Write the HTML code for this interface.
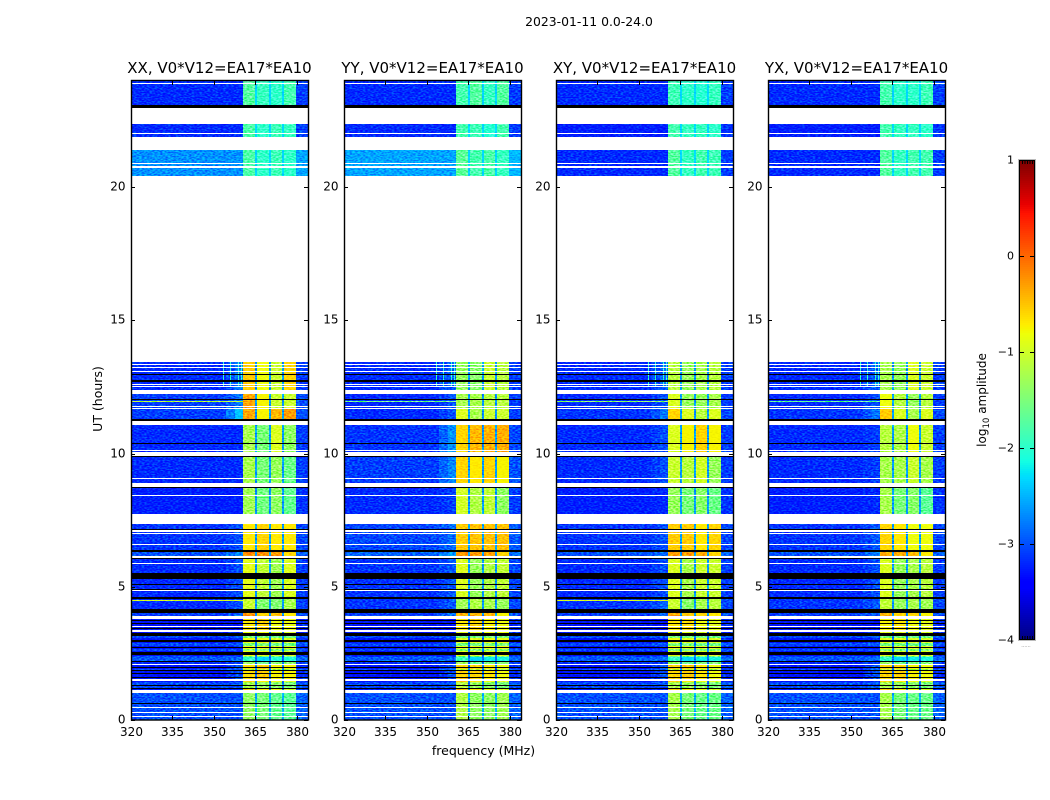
<!DOCTYPE html>
<html lang="en">
<head>
<meta charset="utf-8">
<title>2023-01-11 0.0-24.0</title>
<style>
html,body{margin:0;padding:0;background:#fff;width:1050px;height:800px;overflow:hidden}
svg{display:block}
text{font-family:"DejaVu Sans","Liberation Sans",sans-serif;fill:#000}
</style>
</head>
<body>
<svg id="figure" xmlns="http://www.w3.org/2000/svg" width="1050" height="800" viewBox="0 0 1050 800">
<defs>
<filter id="speckle" x="0" y="0" width="100%" height="100%" color-interpolation-filters="sRGB">
<feTurbulence type="fractalNoise" baseFrequency="0.38 0.78" numOctaves="1" seed="7" result="n"/>
<feColorMatrix in="n" type="matrix" values="2.8 0 0 0 -0.9 2.8 0 0 0 -0.9 2.8 0 0 0 -0.9 0 0 0 0 1" result="g"/>
<feBlend in="g" in2="SourceGraphic" mode="soft-light" result="b"/>
<feComposite in="b" in2="SourceAlpha" operator="in"/>
</filter>
</defs>
<text x="589" y="26" font-size="12.4" text-anchor="middle">2023-01-11 0.0-24.0</text>
<text x="483.5" y="755" font-size="12.5" text-anchor="middle">frequency (MHz)</text>
<text transform="translate(102,399) rotate(-90)" font-size="12.5" text-anchor="middle">UT (hours)</text>
<text transform="translate(986,400) rotate(-90)" font-size="12" text-anchor="middle">log<tspan font-size="8.6" dy="3">10</tspan><tspan dy="-3"> amplitude</tspan></text>
<g id="panels"></g>
<g id="colorbar"></g>
</svg>
<script>
const panelNames = ['XX', 'YY', 'XY', 'YX'];
const xTickLabels = [320, 335, 350, 365, 380];
const yTickLabels = [0, 5, 10, 15, 20];
const colorbarTicks = [1, 0, -1, -2, -3, -4];

// frequency zones (MHz): background, half ramp, ramp, band, gap, band, gap, band, gap, band, background
const freqEdges = [320, 354.5, 357.5, 360.4, 364.8, 365.4, 369.9, 370.5, 374.7, 375.3, 379.8, 384];

// UT epochs (hours, descending) with common band behaviour
const epochEdges = [24, 22.7, 21.7, 20.4, 12.3, 11.71, 11.1, 9.91, 8.75, 7.5, 6.31, 6.1, 4.54, 4.03, 3.85, 3.31, 2.74, 2.35, 2.08, 1.5, 1.13, 0];
const gapLevels = [-2.3, -2.3, -2.3, -2.6, -2.6, -2.6, -2.6, -2.6, -2.6, -2.6, -2.6, -2.6, -2.6, -2.6, -2.8, -2.8, -2.8, -2.8, -2.8, -2.8, -2.5];

// log10 amplitude per epoch: background, ramp, band1, band2, band3, band4
const levelsXX = [
[-3.2,-3.2,-1.75,-1.95,-2.0,-1.85],[-3.2,-3.2,-1.8,-2.0,-1.9,-1.95],[-2.65,-2.65,-1.8,-2.0,-1.9,-2.0],
[-3.2,-2.8,-0.55,-0.8,-1.0,-0.6],[-3.1,-2.8,-0.35,-0.75,-1.0,-1.0],[-3.1,-2.4,-0.35,-0.75,-0.45,-0.3],
[-3.2,-3.2,-1.2,-1.5,-0.9,-1.35],[-3.2,-3.2,-1.2,-1.5,-1.3,-1.6],[-3.25,-3.25,-1.25,-1.55,-1.35,-1.65],
[-3.15,-3.0,-0.7,-0.6,-0.7,-0.7],[-3.0,-2.7,-0.2,-0.25,-0.3,-0.6],[-3.2,-3.0,-0.85,-1.05,-1.25,-0.9],
[-3.2,-3.0,-1.0,-1.45,-1.45,-1.2],[-3.1,-2.9,-0.3,-0.6,-0.5,-0.7],[-3.3,-3.3,-0.7,-0.6,-0.8,-0.8],
[-3.3,-3.2,-0.8,-0.8,-0.9,-0.9],[-3.3,-3.3,-0.8,-0.85,-0.9,-0.9],[-3.2,-3.1,-1.3,-1.6,-1.4,-1.4],
[-3.3,-3.0,-0.65,-0.55,-0.75,-0.75],[-3.3,-3.2,-0.6,-0.7,-0.8,-0.9],[-3.0,-3.0,-1.35,-1.5,-1.65,-1.7]];
const levelsYY = [
[-3.2,-3.2,-1.85,-1.75,-1.95,-1.75],[-3.2,-3.2,-1.85,-1.9,-2.05,-1.85],[-2.55,-2.55,-1.7,-1.85,-1.8,-1.95],
[-3.2,-2.9,-1.3,-1.4,-1.0,-1.1],[-3.2,-3.0,-1.2,-1.2,-1.1,-1.1],[-3.2,-3.0,-0.9,-1.2,-1.0,-1.0],
[-3.15,-2.65,-0.6,-0.45,-0.4,-0.4],[-3.1,-2.7,-0.6,-0.7,-0.6,-0.75],[-3.2,-3.1,-0.95,-1.15,-1.05,-1.35],
[-3.05,-2.85,-0.55,-0.5,-0.5,-0.5],[-2.9,-2.6,-0.3,-0.3,-0.35,-0.6],[-3.15,-2.95,-0.9,-1.3,-1.15,-1.05],
[-3.15,-2.95,-1.25,-1.15,-1.2,-1.3],[-3.1,-2.8,-0.4,-0.4,-0.45,-0.75],[-3.3,-3.3,-0.7,-0.6,-0.75,-0.8],
[-3.3,-3.2,-0.85,-0.85,-0.8,-0.8],[-3.3,-3.3,-0.85,-0.9,-0.85,-0.85],[-3.2,-3.1,-1.25,-1.6,-1.5,-1.45],
[-3.3,-3.0,-0.6,-0.6,-0.7,-0.8],[-3.3,-3.2,-0.5,-0.7,-0.8,-0.9],[-3.0,-3.0,-1.15,-1.35,-1.35,-1.25]];
const levelsXY = [
[-3.2,-3.2,-1.9,-2.0,-2.05,-1.95],[-3.25,-3.25,-1.85,-1.95,-1.95,-2.0],[-3.2,-3.2,-1.75,-1.95,-1.85,-1.9],
[-3.2,-2.9,-1.1,-1.3,-1.2,-1.1],[-3.2,-3.0,-0.9,-1.3,-1.3,-1.2],[-3.15,-2.8,-0.6,-0.9,-1.1,-0.9],
[-3.2,-3.0,-0.9,-0.75,-0.6,-0.75],[-3.2,-3.0,-1.0,-1.1,-0.95,-1.3],[-3.25,-3.2,-1.3,-1.5,-1.4,-1.6],
[-3.15,-3.0,-0.55,-0.55,-0.7,-0.6],[-3.0,-2.8,-0.3,-0.3,-0.4,-0.6],[-3.2,-3.0,-0.9,-1.2,-1.0,-1.0],
[-3.15,-2.9,-1.0,-1.4,-1.2,-1.1],[-3.1,-2.9,-0.4,-0.55,-0.6,-0.7],[-3.3,-3.3,-0.7,-0.65,-0.8,-0.85],
[-3.3,-3.2,-0.8,-0.85,-0.9,-0.9],[-3.3,-3.3,-0.85,-0.95,-0.9,-0.9],[-3.2,-3.1,-1.3,-1.6,-1.5,-1.45],
[-3.3,-3.0,-0.6,-0.55,-0.7,-0.8],[-3.3,-3.2,-0.6,-0.7,-0.8,-0.9],[-3.0,-3.0,-1.2,-1.5,-1.6,-1.6]];
const levelsYX = [
[-3.2,-3.2,-1.85,-2.0,-2.0,-1.9],[-3.25,-3.25,-1.85,-1.95,-1.95,-2.0],[-3.2,-3.2,-1.75,-1.95,-1.85,-1.85],
[-3.2,-2.9,-1.2,-1.3,-0.9,-1.0],[-3.2,-3.0,-0.8,-1.1,-1.3,-1.1],[-3.15,-2.8,-0.55,-0.9,-1.2,-0.9],
[-3.2,-3.1,-1.1,-1.15,-0.8,-1.0],[-3.2,-3.1,-1.2,-1.2,-1.0,-1.2],[-3.25,-3.2,-1.2,-1.5,-1.4,-1.7],
[-3.15,-2.95,-0.6,-0.7,-0.8,-0.8],[-3.0,-2.75,-0.4,-0.35,-0.45,-0.7],[-3.2,-3.0,-0.9,-1.3,-1.2,-1.1],
[-3.15,-2.95,-1.05,-1.3,-1.2,-1.25],[-3.1,-2.9,-0.45,-0.6,-0.6,-0.75],[-3.3,-3.3,-0.75,-0.7,-0.8,-0.85],
[-3.3,-3.2,-0.85,-0.85,-0.9,-0.9],[-3.3,-3.3,-0.85,-0.95,-0.9,-0.9],[-3.2,-3.1,-1.3,-1.6,-1.5,-1.45],
[-3.3,-3.0,-0.6,-0.6,-0.75,-0.8],[-3.3,-3.2,-0.6,-0.7,-0.8,-0.9],[-3.0,-3.0,-1.2,-1.5,-1.6,-1.6]];
const panelLevels = [levelsXX, levelsYY, levelsXY, levelsYX];

// flagged UT ranges with no data (white), [upper, lower] hours
const blankRanges = [[23.90,23.87],[22.96,22.36],[22.03,21.97],[21.88,21.39],[20.99,20.96],[20.90,20.86],[20.77,20.73],[20.41,13.43],[13.34,13.31],[13.26,13.22],[13.10,13.05],[12.61,12.57],[12.54,12.50],[12.39,12.23],[11.80,11.76],[11.71,11.67],[11.23,11.07],[10.13,10.08],[10.05,9.91],[9.07,9.04],[8.89,8.73],[8.43,8.41],[7.74,7.35],[7.13,7.07],[7.01,6.97],[6.59,6.57],[6.15,6.08],[5.88,5.85],[4.87,4.84],[3.90,3.79],[3.54,3.50],[3.38,3.31],[2.10,2.06],[1.54,1.46],[1.13,1.00],[0.48,0.44],[0.31,0.27],[0.16,0.12]];

// zero-amplitude UT ranges (black), [upper, lower] hours
const zeroRanges = [[23.08,22.96],[12.98,12.95],[12.75,12.69],[12.03,12.01],[11.28,11.23],[10.39,10.36],[9.91,9.87],[9.21,9.19],[8.73,8.71],[8.49,8.47],[7.16,7.13],[6.38,6.31],[6.08,6.04],[5.50,5.30],[5.11,5.07],[4.92,4.88],[4.60,4.54],[4.17,4.03],[3.75,3.71],[3.64,3.60],[3.45,3.41],[3.25,3.17],[3.02,2.93],[2.74,2.70],[2.55,2.44],[2.20,2.16],[1.99,1.95],[1.88,1.84],[1.76,1.71],[1.63,1.59],[1.44,1.41],[1.31,1.28],[1.20,1.16],[0.63,0.60]];

// low-gain rows in the striped interval: band level drop applies
const dimRanges = [[3.15,3.08],[2.89,2.78],[2.66,2.59],[2.40,2.21],[1.93,1.88],[1.41,1.33],[1.28,1.20]];
const dimBandDrop = [0.7, 0.7, 0.6, 0.7, 0.5, 0.6, 0.6];

// RFI rows: upper UT, lower UT, then level per panel
const rfiRowRanges = [[11.97,11.93],[4.52,4.48]];
const rfiRowLevels = [[-1.1,-1.6,-1.4,-1.7],[-0.9,null,-0.9,null]];
// RFI channels in MHz seen during 12.4-13.4 UT
const rfiChannelFreqs = [353.2,355.7,358.6,359.6];
const rfiChannelLevels = [-2.0,-2.0,-2.0,-2.0];
const rfiChannelTop = 13.43;
const rfiChannelBottom = 12.46;

const svgNS = 'http://www.w3.org/2000/svg';
const panelLeft = [131, 344, 556, 768];
const panelW = 177, plotTop = 81, plotBottom = 720, pxPerHour = 26.65;
function xScale(i, f){ return panelLeft[i] + (f - 320) * panelW / 64; }
function yScale(t){ return Math.max(plotTop, Math.round(plotBottom - t * pxPerHour)); }
function jetSeg(t, pts){
  for(let k = 1; k < pts.length; k++){
    if(t <= pts[k][0]){
      const a = pts[k-1], b = pts[k];
      return a[1] + (b[1]-a[1]) * (t-a[0]) / (b[0]-a[0]);
    }
  }
  return pts[pts.length-1][1];
}
function jet(v){
  const t = Math.max(0, Math.min(1, (v + 4) / 5));
  const r = jetSeg(t, [[0,0],[0.35,0],[0.66,1],[0.89,1],[1,0.5]]);
  const g = jetSeg(t, [[0,0],[0.125,0],[0.375,1],[0.64,1],[0.91,0],[1,0]]);
  const b = jetSeg(t, [[0,0.5],[0.11,1],[0.34,1],[0.65,0],[1,0]]);
  return 'rgb(' + Math.round(r*255) + ',' + Math.round(g*255) + ',' + Math.round(b*255) + ')';
}
function inRange(list, t){ return list.findIndex(r => t < r[0] && t > r[1]); }
function rect(parent, x, y, w, h, fill){
  const el = document.createElementNS(svgNS, 'rect');
  el.setAttribute('x', x);
  el.setAttribute('y', y);
  el.setAttribute('width', w);
  el.setAttribute('height', h);
  el.setAttribute('fill', fill);
  parent.appendChild(el);
  return el;
}
function line(parent, x1, y1, x2, y2, color){
  const el = document.createElementNS(svgNS, 'line');
  el.setAttribute('x1', x1);
  el.setAttribute('y1', y1);
  el.setAttribute('x2', x2);
  el.setAttribute('y2', y2);
  el.setAttribute('stroke', color || '#000');
  el.setAttribute('stroke-width', '1');
  el.setAttribute('shape-rendering', 'crispEdges');
  parent.appendChild(el);
  return el;
}
function label(parent, x, y, str, size, anchor){
  const el = document.createElementNS(svgNS, 'text');
  el.setAttribute('x', x);
  el.setAttribute('y', y);
  el.setAttribute('font-size', size);
  el.setAttribute('text-anchor', anchor);
  el.textContent = str;
  parent.appendChild(el);
  return el;
}

const breaks = new Set(epochEdges);
blankRanges.concat(zeroRanges, rfiRowRanges, dimRanges).forEach(r => { breaks.add(r[0]); breaks.add(r[1]); });
const timeEdges = Array.from(breaks).sort((a, b) => b - a);

const panelsRoot = document.getElementById('panels');
panelNames.forEach((name, p) => {
  const lowerName = name.toLowerCase();
  const g = document.createElementNS(svgNS, 'g');
  
  
  panelsRoot.appendChild(g);

  const heat = document.createElementNS(svgNS, 'g');
  
  
  heat.setAttribute('filter', 'url(#speckle)');
  heat.setAttribute('shape-rendering', 'crispEdges');
  g.appendChild(heat);

  const x0 = panelLeft[p], x1 = x0 + panelW;
  for(let k = 0; k < timeEdges.length - 1; k++){
    const hi = timeEdges[k], lo = timeEdges[k+1], mid = (hi + lo) / 2;
    if(inRange(blankRanges, mid) >= 0) continue;
    const top = yScale(hi), h = yScale(lo) - top;
    if(h <= 0) continue;
    if(inRange(zeroRanges, mid) >= 0){
      const cellZero = rect(heat, x0, top, panelW, h, '#000');
      
      
      continue;
    }
    const ep = epochEdges.findIndex((e, n) => n < epochEdges.length - 1 && mid < e && mid >= epochEdges[n+1]);
    const lv = panelLevels[p][ep];
    const rfi = inRange(rfiRowRanges, mid);
    const rfiLevel = rfi >= 0 ? rfiRowLevels[rfi][p] : null;
    const dim = inRange(dimRanges, mid);
    const drop = dim >= 0 ? dimBandDrop[dim] : 0;
    const lift = dim >= 0 ? 0.25 : 0;
    const zoneLevels = [lv[0] + lift, (lv[0] + lv[1]) / 2 + lift, lv[1] + lift,
      lv[2] - drop, gapLevels[ep], lv[3] - drop, gapLevels[ep], lv[4] - drop, gapLevels[ep], lv[5] - drop, lv[0] + 0.1 + lift];
    zoneLevels.forEach((v, z) => {
      const left = Math.round(xScale(p, freqEdges[z]));
      const right = Math.round(xScale(p, freqEdges[z+1]));
      const value = (rfiLevel !== null && z < 3) ? rfiLevel : v;
      const cell = rect(heat, left, top, right - left, h, jet(value));
      
      
    });
    if(mid < rfiChannelTop && mid > rfiChannelBottom){
      rfiChannelFreqs.forEach((f, c) => {
        const mark = rect(heat, Math.round(xScale(p, f)), top, 1, h, jet(rfiChannelLevels[c]));
        
        
      });
    }
  }

  const frame = rect(g, x0 + 0.5, plotTop - 0.5, panelW, plotBottom - plotTop + 0.5, 'none');
  frame.setAttribute('stroke', '#000');
  frame.setAttribute('stroke-width', '1.4');
  
  

  xTickLabels.forEach(v => {
    const x = Math.round(xScale(p, v)) + 0.5;
    const tb = line(g, x, plotBottom, x, plotBottom - 4);
    
    
    const tt = line(g, x, plotTop, x, plotTop + 4);
    
    
    const tl = label(g, x, 736, String(v), 12, 'middle');
    
    
  });
  yTickLabels.forEach(v => {
    const y = yScale(v) + 0.5;
    const ll = line(g, x0, y, x0 + 4, y);
    
    
    const lr = line(g, x1, y, x1 - 4, y);
    
    
    const tl = label(g, x0 - 5.5, y + 3, String(v), 12, 'end');
    
    
  });
  const title = label(g, x0 + panelW / 2, 73, name + ', V0*V12=EA17*EA10', 15, 'middle');
  
  
});

// colorbar
const cb = document.getElementById('colorbar');
const cbLeft = 1019, cbW = 16, cbTop = 160, cbBottom = 640;
function cbY(v){ return cbBottom - (v + 4) * (cbBottom - cbTop) / 5; }
const ramp = document.createElementNS(svgNS, 'g');


ramp.setAttribute('shape-rendering', 'crispEdges');
cb.appendChild(ramp);
for(let s = 0; s < 240; s++){
  const v = -4 + 5 * (s + 0.5) / 240;
  rect(ramp, cbLeft, Math.round(cbY(v) - 1), cbW, 3, jet(v));
}
const cbFrame = rect(cb, cbLeft + 0.5, cbTop + 0.5, cbW - 1, cbBottom - cbTop - 1, 'none');
cbFrame.setAttribute('stroke', '#000');
cbFrame.setAttribute('shape-rendering', 'crispEdges');


const cbOuter = rect(cb, cbLeft - 0.5, cbTop - 0.5, cbW + 1, cbBottom - cbTop + 1, 'none');
cbOuter.setAttribute('stroke', '#bbb');
cbOuter.setAttribute('shape-rendering', 'crispEdges');


colorbarTicks.forEach(v => {
  const y = Math.round(cbY(v)) + 0.5;
  if(v !== 1 && v !== -4){
    const a = line(cb, cbLeft, y, cbLeft + 5, y);
    
    
    const b = line(cb, cbLeft + cbW, y, cbLeft + cbW - 5, y);
    
    
  }
  const txt = v < 0 ? '\u2212' + Math.abs(v) : String(v);
  const t = label(cb, 1014, y + 3, txt, 11, 'end');
  
  
});
[0, 1, 2, 3, 4].forEach(n => {
  const x = cbLeft + 3.5 + n * 2.5;
  const top = line(cb, x, cbTop, x, cbTop + 4);
  
  
  const bot = line(cb, x, cbBottom, x, cbBottom - 4);
  
  
});
const dots = label(cb, cbLeft + 7, 647, '......', 5, 'middle');
dots.style.fill = '#777';


</script>
</body>
</html>
